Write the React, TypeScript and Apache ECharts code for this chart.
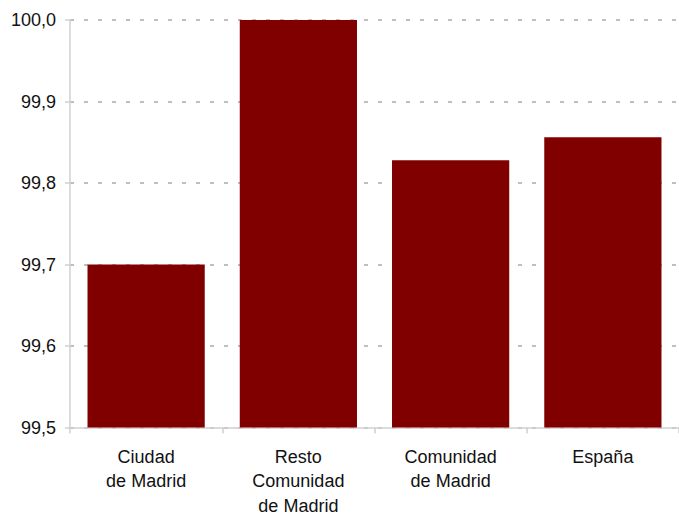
import React, { useEffect, useRef } from "react";
import * as echarts from "echarts";

const categories = ["Ciudad\nde Madrid", "Resto\nComunidad\nde Madrid", "Comunidad\nde Madrid", "España"];
const values = [99.7, 100.0, 99.828, 99.856];

export default function App() {
  const ref = useRef<HTMLDivElement>(null);
  useEffect(() => {
    if (!ref.current) return;
    const chart = echarts.init(ref.current, null, { renderer: "svg" });
    chart.setOption({
      animation: false,
      backgroundColor: "#ffffff",
      grid: { left: 70, right: 0, top: 20, bottom: 86, containLabel: false },
      xAxis: {
        type: "category",
        data: categories,
        axisLine: { show: true, lineStyle: { color: "#d0d0d0", width: 1.5 } },
        axisTick: { show: true, length: 6, alignWithLabel: false, lineStyle: { color: "#d0d0d0", width: 1.5 } },
        axisLabel: {
          color: "#111111",
          fontFamily: "'Liberation Sans', Arial, sans-serif",
          fontSize: 18,
          lineHeight: 24.5,
          margin: 17,
          interval: 0,
        },
      },
      yAxis: {
        type: "value",
        min: 99.5,
        max: 100.0,
        interval: 0.1,
        axisLine: { show: true, lineStyle: { color: "#d0d0d0", width: 1.5 } },
        axisTick: { show: true, length: 5, lineStyle: { color: "#d0d0d0", width: 1.5 } },
        axisLabel: {
          color: "#111111",
          fontFamily: "'Liberation Sans', Arial, sans-serif",
          fontSize: 18,
          margin: 14,
          formatter: (v: number) => v.toFixed(1).replace(".", ","),
        },
        splitLine: {
          show: true,
          lineStyle: { color: "#bfbfbf", width: 2, type: [4, 10] },
        },
      },
      series: [
        {
          type: "bar",
          data: values,
          barCategoryGap: "23%",
          itemStyle: { color: "#800000" },
        },
      ],
    });
    return () => chart.dispose();
  }, []);
  return <div ref={ref} style={{ position: "fixed", left: 0, top: 0, width: 679, height: 518 }} />;
}
